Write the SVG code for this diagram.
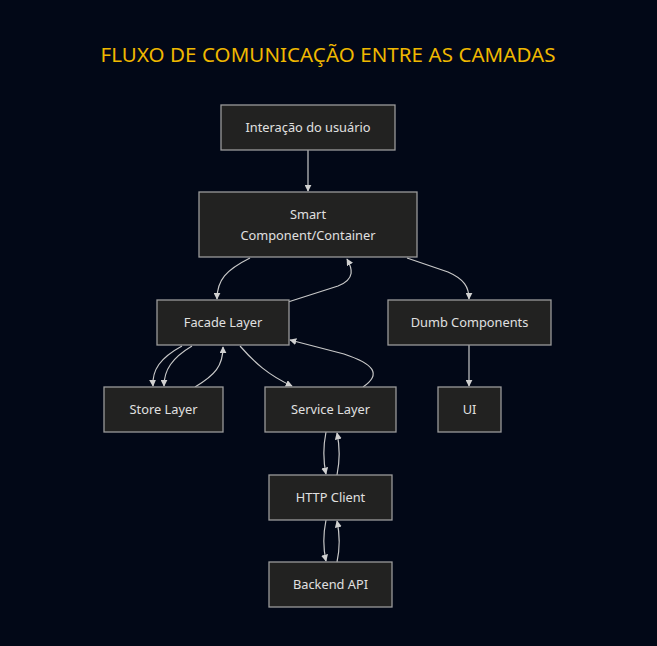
<svg xmlns="http://www.w3.org/2000/svg" width="657" height="646" viewBox="0 0 657 646">
<style>
.bg{fill:#020817}
.node rect{fill:#222221;stroke:#9a9a9a;stroke-width:1.3}
.node text{fill:#e0e0e0;font-family:"Noto Sans","DejaVu Sans",sans-serif;font-size:12.8px;text-anchor:middle;dominant-baseline:central}
.title{fill:#f0b800;font-family:"Noto Sans","Open Sans",sans-serif;font-size:20.5px;text-anchor:middle}
.edges path{fill:none;stroke:#c8c8c8;stroke-width:1.2;marker-end:url(#arr)}
</style>
<defs>
<marker id="arr" viewBox="0 0 10 10" refX="9" refY="5" markerWidth="7" markerHeight="7" orient="auto" markerUnits="userSpaceOnUse">
<path d="M0,0 L10,5 L0,10 z" fill="#d0d0d0"/>
</marker>
</defs>
<rect class="bg" x="0" y="0" width="657" height="646"/>
<text class="title" x="328" y="62" textLength="455" lengthAdjust="spacing">FLUXO DE COMUNICAÇÃO ENTRE AS CAMADAS</text>
<g class="edges" id="connectors">
<path d="M308,150 L308,191"/>
<path d="M250,258 C226,270 217,280 217,299"/>
<path d="M288,302 L338,286 C356,279 352,268 347,259"/>
<path d="M407,258 L448,272 C464,279 469,287 469,299"/>
<path d="M469,345 L469,386"/>
<path d="M182,346 C160,358 152,370 153,386"/>
<path d="M192,346 C172,358 164,370 164,386"/>
<path d="M195,387 C215,375 223,366 223,347"/>
<path d="M240,346 C254,362 268,375 292,386"/>
<path d="M363,387 C382,374 374,364 344,354 L290,340"/>
<path d="M326,432 C323,447 323,460 326,474"/>
<path d="M337,475 C340,460 340,447 337,433"/>
<path d="M326,520 C323,535 323,548 326,561"/>
<path d="M337,562 C340,548 340,535 337,521"/>
</g>
<g class="node" id="n-interacao"><rect x="221" y="105" width="174" height="45"/><text x="308" y="127">Interação do usuário</text></g>
<g class="node" id="n-smart"><rect x="199" y="192" width="218" height="65"/><text x="308" y="213.5">Smart</text><text x="308" y="234.5">Component/Container</text></g>
<g class="node" id="n-facade"><rect x="157" y="300" width="132" height="45"/><text x="223" y="322">Facade Layer</text></g>
<g class="node" id="n-dumb"><rect x="388" y="300" width="163" height="45"/><text x="469.5" y="322">Dumb Components</text></g>
<g class="node" id="n-store"><rect x="104" y="387" width="119" height="45"/><text x="163.5" y="409">Store Layer</text></g>
<g class="node" id="n-service"><rect x="265" y="387" width="131" height="45"/><text x="330.5" y="409">Service Layer</text></g>
<g class="node" id="n-ui"><rect x="438" y="387" width="63" height="45"/><text x="469.5" y="409">UI</text></g>
<g class="node" id="n-http"><rect x="269" y="475" width="123" height="45"/><text x="330.5" y="497">HTTP Client</text></g>
<g class="node" id="n-backend"><rect x="269" y="562" width="123" height="45"/><text x="330.5" y="584">Backend API</text></g>
</svg>
